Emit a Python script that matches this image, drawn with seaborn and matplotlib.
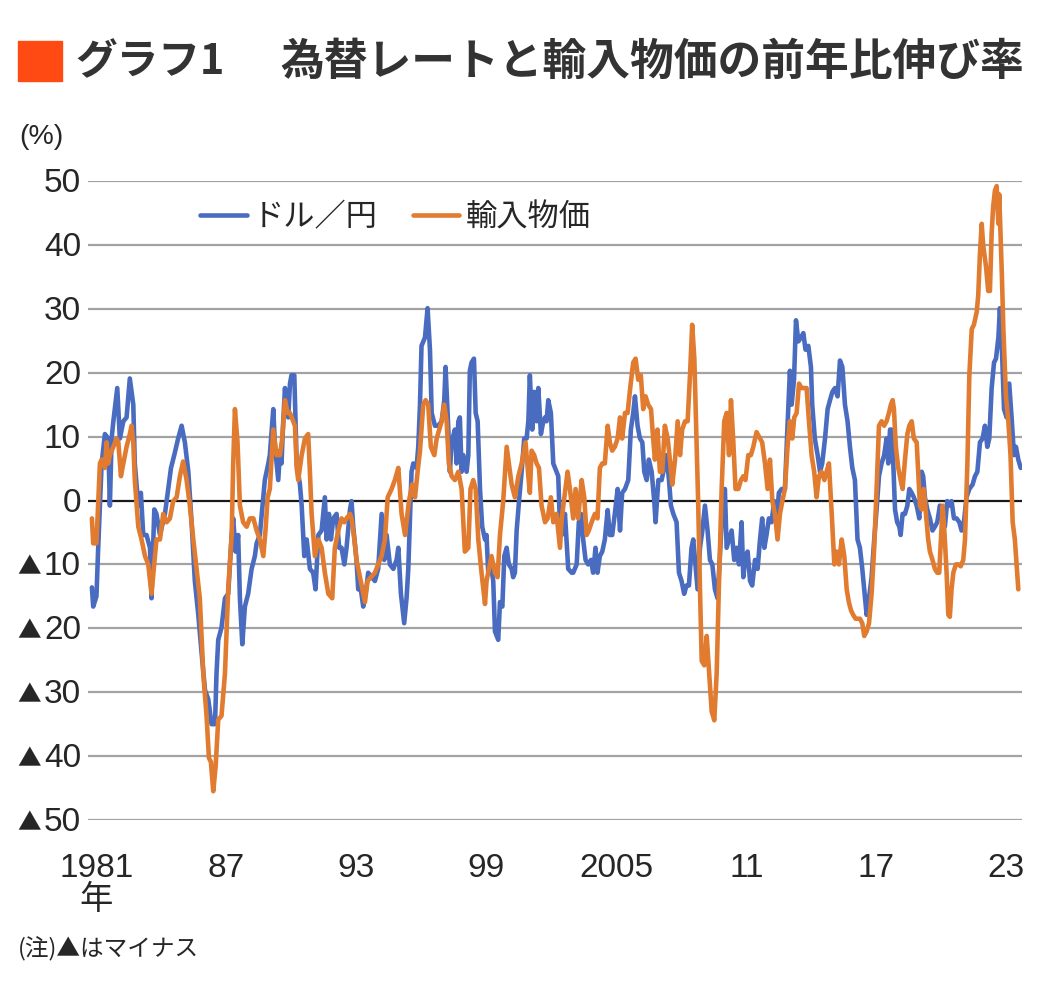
import numpy as np
import pandas as pd
import matplotlib
matplotlib.use("Agg")
import matplotlib.pyplot as plt
from matplotlib.patches import Rectangle
from matplotlib.font_manager import FontProperties
from matplotlib.transforms import blended_transform_factory, ScaledTranslation
import seaborn as sns

# ---------------- data ----------------
usd_year = [
    1981.00, 1981.06, 1981.21, 1981.29, 1981.45, 1981.60, 1981.75, 1981.83, 1981.91, 1981.99,
    1982.17, 1982.29, 1982.45, 1982.60, 1982.75, 1982.91, 1982.98, 1983.14, 1983.26, 1983.37,
    1983.52, 1983.68, 1983.75, 1983.88, 1983.98, 1984.14, 1984.37, 1984.52, 1984.65, 1984.80,
    1984.98, 1985.14, 1985.29, 1985.45, 1985.60, 1985.75, 1985.91, 1986.06, 1986.22, 1986.37,
    1986.52, 1986.68, 1986.75, 1986.83, 1986.98, 1987.14, 1987.29, 1987.45, 1987.52, 1987.63,
    1987.75, 1987.83, 1987.94, 1988.06, 1988.21, 1988.37, 1988.52, 1988.60, 1988.75, 1988.91,
    1988.98, 1989.14, 1989.21, 1989.37, 1989.45, 1989.60, 1989.68, 1989.75, 1989.83, 1989.91,
    1989.98, 1990.06, 1990.14, 1990.21, 1990.34, 1990.45, 1990.60, 1990.68, 1990.80, 1990.91,
    1991.06, 1991.21, 1991.32, 1991.45, 1991.60, 1991.75, 1991.83, 1991.94, 1992.03, 1992.14,
    1992.29, 1992.41, 1992.52, 1992.65, 1992.75, 1992.91, 1992.98, 1993.06, 1993.21, 1993.29,
    1993.41, 1993.52, 1993.63, 1993.75, 1993.91, 1994.06, 1994.21, 1994.37, 1994.49, 1994.60,
    1994.75, 1994.91, 1995.06, 1995.14, 1995.26, 1995.41, 1995.52, 1995.60, 1995.75, 1995.83,
    1995.98, 1996.06, 1996.14, 1996.21, 1996.37, 1996.49, 1996.60, 1996.68, 1996.83, 1996.98,
    1997.14, 1997.26, 1997.32, 1997.44, 1997.52, 1997.60, 1997.75, 1997.83, 1997.91, 1997.98,
    1998.06, 1998.14, 1998.29, 1998.37, 1998.44, 1998.52, 1998.63, 1998.71, 1998.80, 1998.91,
    1999.01, 1999.14, 1999.21, 1999.29, 1999.41, 1999.52, 1999.60, 1999.75, 1999.83, 1999.94,
    2000.03, 2000.14, 2000.24, 2000.37, 2000.44, 2000.52, 2000.60, 2000.71, 2000.83, 2000.95,
    2001.06, 2001.14, 2001.21, 2001.32, 2001.41, 2001.52, 2001.60, 2001.72, 2001.83, 2001.91,
    2001.98, 2002.06, 2002.18, 2002.29, 2002.44, 2002.52, 2002.60, 2002.68, 2002.83, 2002.98,
    2003.14, 2003.21, 2003.37, 2003.47, 2003.57, 2003.67, 2003.78, 2003.90, 2004.03, 2004.13,
    2004.24, 2004.33, 2004.44, 2004.55, 2004.67, 2004.80, 2004.90, 2005.01, 2005.13, 2005.26,
    2005.37, 2005.47, 2005.60, 2005.75, 2005.87, 2005.98, 2006.06, 2006.18, 2006.29, 2006.40,
    2006.49, 2006.60, 2006.70, 2006.83, 2006.95, 2007.01, 2007.14, 2007.29, 2007.41, 2007.52,
    2007.63, 2007.72, 2007.83, 2007.98, 2008.09, 2008.21, 2008.33, 2008.44, 2008.55, 2008.67,
    2008.75, 2008.83, 2008.95, 2009.06, 2009.17, 2009.29, 2009.41, 2009.52, 2009.63, 2009.75,
    2009.87, 2009.98, 2010.06, 2010.14, 2010.21, 2010.29, 2010.40, 2010.52, 2010.64, 2010.75,
    2010.86, 2010.98, 2011.06, 2011.16, 2011.26, 2011.37, 2011.47, 2011.60, 2011.72, 2011.83,
    2011.93, 2012.03, 2012.13, 2012.24, 2012.36, 2012.49, 2012.60, 2012.70, 2012.83, 2012.98,
    2013.10, 2013.21, 2013.29, 2013.40, 2013.49, 2013.60, 2013.72, 2013.83, 2013.93, 2014.06,
    2014.18, 2014.24, 2014.36, 2014.49, 2014.60, 2014.70, 2014.83, 2014.95, 2015.06, 2015.17,
    2015.29, 2015.41, 2015.52, 2015.63, 2015.75, 2015.87, 2015.98, 2016.09, 2016.21, 2016.33,
    2016.44, 2016.55, 2016.64, 2016.75, 2016.86, 2016.98, 2017.10, 2017.21, 2017.32, 2017.44,
    2017.56, 2017.67, 2017.75, 2017.83, 2017.90, 2017.98, 2018.06, 2018.16, 2018.26, 2018.32,
    2018.41, 2018.52, 2018.63, 2018.72, 2018.83, 2018.93, 2019.06, 2019.18, 2019.29, 2019.36,
    2019.44, 2019.55, 2019.67, 2019.79, 2019.90, 2020.01, 2020.13, 2020.26, 2020.36, 2020.47,
    2020.56, 2020.67, 2020.78, 2020.90, 2021.03, 2021.13, 2021.24, 2021.36, 2021.49, 2021.64,
    2021.75, 2021.86, 2021.98, 2022.10, 2022.21, 2022.32, 2022.41, 2022.52, 2022.63, 2022.72,
    2022.83, 2022.90, 2023.01, 2023.09, 2023.21, 2023.33, 2023.44, 2023.55, 2023.64, 2023.75,
    2023.86,
]
usd_value = [
    -13.6, -16.6, -15.0, -7.4, 5.8, 10.4, 9.7, -0.8, 9.7, 12.4,
    17.6, 9.7, 12.4, 13.0, 19.1, 15.0, 5.8, -0.8, 1.2, -5.4,
    -5.4, -7.4, -15.3, -1.4, -2.1, -5.4, -2.1, 1.8, 5.1, 7.1,
    9.7, 11.7, 9.1, 4.5, -3.4, -12.6, -17.9, -23.8, -29.7, -31.1,
    -35.0, -35.0, -27.1, -21.8, -19.9, -15.3, -14.6, -5.4, -2.8, -8.0,
    -5.4, -15.3, -22.5, -16.6, -14.6, -10.7, -8.7, -6.7, -5.4, 0.5,
    3.2, 5.8, 7.1, 14.3, 8.4, 3.2, 7.8, 5.8, 12.4, 17.6,
    13.7, 13.0, 18.3, 19.6, 19.6, 5.8, 2.5, -0.8, -8.7, -6.1,
    -10.7, -11.3, -13.9, -5.4, -4.7, 0.5, -6.1, -2.1, -6.1, -2.8,
    -2.1, -7.4, -7.4, -10.0, -7.4, -1.4, -0.1, -4.1, -9.3, -13.9,
    -13.9, -16.6, -14.6, -11.3, -12.0, -12.6, -10.7, -2.1, -9.3, -5.4,
    -10.0, -10.7, -9.3, -7.4, -14.6, -19.2, -15.3, -10.7, 4.5, 5.8,
    5.1, 8.4, 15.0, 24.2, 25.5, 30.1, 23.6, 13.7, 11.7, 11.7,
    12.4, 15.7, 20.9, 11.7, 4.5, 9.1, 11.1, 5.8, 12.4, 13.0,
    4.5, 7.1, 4.5, 7.1, 20.3, 21.6, 22.2, 13.7, 12.4, 1.8,
    -4.1, -6.1, -5.4, -11.3, -10.0, -12.6, -20.5, -21.8, -15.9, -16.6,
    -8.7, -7.4, -10.0, -10.7, -12.0, -11.3, -4.7, -0.1, 4.5, 9.7,
    9.7, 12.4, 19.6, 11.1, 17.0, 12.4, 17.6, 10.4, 12.4, 13.0,
    12.4, 15.7, 13.7, 5.8, 4.5, 3.8, -4.1, -5.4, -2.1, -10.7,
    -11.3, -11.3, -10.0, -3.4, -2.1, -6.1, -9.3, -10.0, -9.3, -11.3,
    -7.4, -11.3, -8.7, -8.0, -6.1, -1.5, -5.4, -5.4, -2.1, 1.8,
    -4.7, 1.2, 1.8, 3.2, 11.1, 13.7, 16.3, 11.7, 9.7, 9.1,
    4.5, 3.2, 6.4, 4.5, -0.1, -3.4, 3.2, 3.2, 5.1, 7.1,
    3.2, -0.8, -2.1, -3.4, -11.3, -12.6, -14.6, -13.3, -13.3, -7.4,
    -6.1, -9.3, -13.9, -7.4, -4.7, -0.8, -4.7, -9.3, -10.0, -13.9,
    -15.3, -8.7, -3.4, 0.5, 1.8, -7.4, -6.1, -4.7, -9.3, -7.4,
    -10.0, -3.4, -12.0, -8.7, -8.0, -12.6, -13.3, -9.3, -10.7, -6.1,
    -2.8, -7.4, -5.4, -2.8, -3.4, -0.1, -3.4, 1.2, 1.8, 1.8,
    11.7, 20.3, 15.0, 18.9, 28.2, 24.9, 25.5, 26.2, 23.6, 24.2,
    20.9, 15.0, 9.7, 7.1, 4.5, 5.8, 9.7, 14.3, 15.7, 17.0,
    17.6, 16.3, 21.9, 20.9, 15.0, 12.4, 8.4, 5.1, 3.2, -6.1,
    -7.4, -10.7, -13.9, -17.9, -15.3, -12.0, -6.1, -1.4, 3.8, 5.8,
    7.1, 9.7, 5.8, 11.1, 11.1, 5.8, -1.4, -3.4, -4.1, -5.4,
    -2.1, -2.1, -0.8, 1.8, 1.2, 0.5, -0.8, -2.8, 4.5, 3.8,
    0.5, -1.4, -2.8, -4.7, -4.1, -3.4, -0.8, -2.1, -4.1, -0.1,
    -0.8, -0.1, -2.8, -2.8, -3.4, -4.7, -3.4, 0.5, 1.8, 2.5,
    3.8, 4.5, 9.1, 9.7, 11.7, 8.4, 9.7, 17.6, 21.6, 22.2,
    25.5, 30.1, 22.2, 14.3, 13.0, 18.3, 13.0, 7.1, 8.4, 6.4,
    5.1,
]

imp_year = [
    1981.00, 1981.06, 1981.21, 1981.37, 1981.45, 1981.52, 1981.60, 1981.68, 1981.75, 1981.83,
    1981.99, 1982.14, 1982.22, 1982.34, 1982.45, 1982.60, 1982.75, 1982.83, 1982.91, 1982.98,
    1983.14, 1983.29, 1983.45, 1983.60, 1983.75, 1983.91, 1983.98, 1984.14, 1984.29, 1984.45,
    1984.60, 1984.75, 1984.91, 1985.06, 1985.21, 1985.37, 1985.52, 1985.68, 1985.83, 1985.98,
    1986.14, 1986.29, 1986.40, 1986.49, 1986.60, 1986.71, 1986.83, 1986.98, 1987.14, 1987.29,
    1987.45, 1987.52, 1987.60, 1987.72, 1987.83, 1987.98, 1988.14, 1988.29, 1988.45, 1988.60,
    1988.75, 1988.91, 1989.01, 1989.11, 1989.21, 1989.37, 1989.52, 1989.68, 1989.78, 1989.91,
    1990.03, 1990.14, 1990.29, 1990.37, 1990.45, 1990.52, 1990.68, 1990.83, 1990.98, 1991.06,
    1991.14, 1991.29, 1991.45, 1991.60, 1991.75, 1991.91, 1992.09, 1992.21, 1992.37, 1992.52,
    1992.65, 1992.75, 1992.91, 1992.98, 1993.11, 1993.21, 1993.37, 1993.52, 1993.60, 1993.72,
    1993.88, 1994.06, 1994.21, 1994.37, 1994.52, 1994.65, 1994.83, 1994.98, 1995.14, 1995.29,
    1995.45, 1995.63, 1995.78, 1995.91, 1996.03, 1996.14, 1996.29, 1996.40, 1996.52, 1996.64,
    1996.80, 1996.91, 1997.14, 1997.26, 1997.37, 1997.47, 1997.60, 1997.75, 1997.91, 1998.06,
    1998.21, 1998.37, 1998.47, 1998.60, 1998.71, 1998.83, 1998.98, 1999.14, 1999.21, 1999.32,
    1999.44, 1999.60, 1999.72, 1999.83, 1999.98, 2000.14, 2000.24, 2000.37, 2000.52, 2000.68,
    2000.83, 2001.01, 2001.14, 2001.21, 2001.29, 2001.41, 2001.52, 2001.63, 2001.75, 2001.91,
    2002.03, 2002.18, 2002.29, 2002.44, 2002.60, 2002.68, 2002.80, 2002.95, 2003.06, 2003.21,
    2003.32, 2003.44, 2003.60, 2003.72, 2003.83, 2003.93, 2004.06, 2004.21, 2004.33, 2004.44,
    2004.55, 2004.67, 2004.80, 2004.90, 2005.01, 2005.13, 2005.26, 2005.37, 2005.47, 2005.60,
    2005.72, 2005.84, 2005.98, 2006.09, 2006.21, 2006.33, 2006.44, 2006.55, 2006.67, 2006.80,
    2006.90, 2006.98, 2007.10, 2007.21, 2007.32, 2007.44, 2007.57, 2007.69, 2007.78, 2007.91,
    2008.03, 2008.14, 2008.24, 2008.37, 2008.49, 2008.60, 2008.70, 2008.80, 2008.90, 2008.98,
    2009.06, 2009.14, 2009.26, 2009.37, 2009.47, 2009.60, 2009.72, 2009.83, 2009.93, 2010.06,
    2010.18, 2010.29, 2010.40, 2010.49, 2010.60, 2010.70, 2010.83, 2010.95, 2011.06, 2011.16,
    2011.29, 2011.41, 2011.52, 2011.67, 2011.83, 2011.93, 2012.06, 2012.18, 2012.29, 2012.40,
    2012.52, 2012.64, 2012.75, 2012.86, 2012.98, 2013.10, 2013.21, 2013.32, 2013.41, 2013.52,
    2013.63, 2013.75, 2013.87, 2013.98, 2014.09, 2014.21, 2014.33, 2014.44, 2014.55, 2014.67,
    2014.80, 2014.90, 2015.01, 2015.14, 2015.26, 2015.37, 2015.47, 2015.60, 2015.72, 2015.83,
    2015.93, 2016.03, 2016.13, 2016.24, 2016.33, 2016.44, 2016.55, 2016.64, 2016.75, 2016.86,
    2016.98, 2017.10, 2017.21, 2017.32, 2017.44, 2017.56, 2017.67, 2017.78, 2017.87, 2017.95,
    2018.01, 2018.10, 2018.21, 2018.32, 2018.41, 2018.52, 2018.63, 2018.72, 2018.83, 2018.93,
    2019.06, 2019.13, 2019.21, 2019.29, 2019.39, 2019.49, 2019.59, 2019.67, 2019.79, 2019.90,
    2020.01, 2020.10, 2020.18, 2020.26, 2020.36, 2020.44, 2020.52, 2020.59, 2020.67, 2020.75,
    2020.87, 2020.98, 2021.09, 2021.21, 2021.29, 2021.40, 2021.49, 2021.60, 2021.70, 2021.83,
    2021.90, 2021.98, 2022.06, 2022.13, 2022.26, 2022.36, 2022.44, 2022.52, 2022.59, 2022.67,
    2022.75, 2022.83, 2022.87, 2022.93, 2022.99, 2023.06, 2023.18, 2023.29, 2023.39, 2023.49,
    2023.59, 2023.67, 2023.75,
]
imp_value = [
    -2.8, -6.7, -6.7, 5.8, 6.4, 6.4, 5.1, 9.1, 5.8, 7.1,
    8.4, 9.7, 9.1, 3.8, 5.8, 8.4, 10.4, 11.7, 9.1, 3.2,
    -4.1, -6.1, -8.7, -10.0, -14.6, -8.7, -6.1, -6.1, -2.1, -3.4,
    -2.8, -0.1, 0.5, 3.8, 6.1, 3.2, -0.8, -6.1, -10.7, -15.3,
    -27.1, -33.7, -40.3, -40.9, -45.5, -41.6, -34.3, -33.7, -27.1, -13.9,
    -5.4, 5.8, 14.3, 9.1, -0.8, -3.4, -4.1, -2.8, -2.8, -4.7,
    -6.1, -8.7, -4.7, 0.5, 1.8, 11.1, 7.1, 7.1, 9.7, 15.7,
    13.7, 13.7, 12.4, 11.7, 5.1, 3.2, 7.1, 9.7, 10.4, 4.5,
    -2.1, -8.7, -6.1, -7.4, -11.3, -14.6, -15.3, -7.4, -4.7, -2.8,
    -3.4, -2.8, -2.1, -2.8, -6.1, -9.3, -12.0, -14.6, -15.9, -12.6,
    -12.0, -11.3, -10.0, -8.7, -6.1, 0.5, 1.8, 3.2, 5.1, -2.1,
    -5.4, -0.1, 2.5, 0.5, 4.5, 7.8, 15.0, 15.7, 15.0, 8.4,
    7.1, 9.7, 12.4, 15.0, 12.4, 5.8, 3.8, 3.2, 4.5, 1.8,
    -8.0, -7.4, 1.8, 3.2, 1.8, -6.1, -11.3, -16.2, -12.6, -10.7,
    -8.7, -11.3, -12.0, -5.4, -0.1, 8.4, 5.8, 2.5, 0.5, 3.8,
    5.8, 9.1, 3.8, 1.2, 7.8, 7.1, 5.8, 5.1, -0.8, -3.4,
    -2.8, 0.5, -3.4, -2.1, -7.4, -2.8, 0.5, 4.5, 1.8, -2.8,
    1.8, -2.8, 3.2, 0.5, -5.4, -4.7, -3.4, -2.1, -2.8, 5.1,
    5.8, 5.8, 11.7, 9.1, 7.8, 8.4, 9.7, 13.0, 9.7, 13.7,
    13.7, 17.6, 21.6, 22.2, 18.9, 19.6, 14.3, 16.3, 15.0, 14.3,
    9.7, 6.4, 11.1, 4.5, 4.5, 11.7, 9.7, 5.8, 2.5, 6.4,
    12.4, 7.1, 11.1, 12.4, 12.4, 19.6, 27.5, 22.2, 9.7, -0.8,
    -13.9, -25.1, -25.8, -21.2, -26.4, -33.0, -34.4, -27.1, -13.9, 1.8,
    12.4, 13.7, 7.1, 15.7, 9.1, 1.8, 1.8, 3.2, 3.8, 3.2,
    7.1, 7.1, 8.4, 10.7, 9.7, 9.1, 5.8, 1.8, 6.4, -0.1,
    -2.1, -6.1, -2.1, -0.1, 1.8, 8.4, 12.4, 9.7, 13.0, 13.7,
    18.3, 17.6, 17.6, 17.6, 12.4, 7.1, 4.5, 0.5, 3.8, 4.5,
    3.2, 4.5, 5.8, -2.1, -10.0, -8.0, -10.0, -6.1, -8.7, -13.9,
    -15.9, -17.2, -17.9, -18.5, -18.5, -18.5, -19.2, -21.2, -20.5, -19.2,
    -14.6, -7.4, 1.8, 11.7, 12.4, 11.7, 12.4, 13.7, 15.0, 15.7,
    14.3, 8.4, 5.1, 3.2, 1.8, 6.4, 10.4, 11.7, 12.4, 9.7,
    9.1, 4.5, -0.8, -1.4, 1.8, -2.1, -6.1, -8.0, -9.3, -10.7,
    -11.3, -11.3, -6.1, -0.8, -6.1, -11.3, -17.9, -18.2, -13.9, -11.3,
    -10.0, -10.0, -10.3, -9.3, -6.1, 5.8, 19.6, 26.8, 27.5, 29.5,
    32.1, 38.7, 43.3, 39.9, 36.6, 32.8, 32.8, 41.9, 46.0, 48.5,
    49.2, 43.3, 47.9, 41.9, 35.4, 26.8, 16.3, 12.4, 7.1, -3.4,
    -6.1, -10.0, -13.9,
]

series_names = ["ドル／円", "輸入物価"]
series_colors = ["#4a6cc0", "#e07b2f"]
tick_years = [1981, 1987, 1993, 1999, 2005, 2011, 2017, 2023]
tick_labels = ["1981\n年", "87", "93", "99", "2005", "11", "17", "23"]
y_ticks = [50, 40, 30, 20, 10, 0, -10, -20, -30, -40, -50]
y_labels = ["50", "40", "30", "20", "10", "0", "▲10", "▲20", "▲30", "▲40", "▲50"]

# ---------------- figure ----------------
sns.set_theme(style="white")
plt.rcParams["font.family"] = ["Noto Sans CJK JP", "DejaVu Sans"]

W, H = 1040, 1003
fig = plt.figure(figsize=(W / 100, H / 100), dpi=100)
fig.patch.set_facecolor("white")
ax = fig.add_axes([88 / W, 1 - 821 / H, 934 / W, 639 / H])

df = pd.concat([
    pd.DataFrame({"year": usd_year, "value": usd_value, "series": series_names[0]}),
    pd.DataFrame({"year": imp_year, "value": imp_value, "series": series_names[1]}),
], ignore_index=True)

sns.lineplot(data=df, x="year", y="value", hue="series", hue_order=series_names,
             palette=series_colors, estimator=None, sort=False, linewidth=3.3,
             ax=ax, zorder=3)

ax.set_xlim(1980.82, 2023.92)
ax.set_ylim(-50, 50)
ax.set_xlabel("")
ax.set_ylabel("")
ax.grid(False)
for v in y_ticks:
    if v == 0:
        ax.axhline(v, color="#1a1a1a", lw=1.6, zorder=2)
    else:
        ax.axhline(v, color="#a3a3a3", lw=1.6, zorder=1)
for s in ax.spines.values():
    s.set_visible(False)

text_color = "#262626"
num_font = FontProperties(family=["Liberation Sans", "Noto Sans CJK JP"], size=24)

# y labels: numbers right-aligned left of the plot, ▲ drawn a bit smaller to their left
ax.set_yticks(y_ticks)
ax.set_yticklabels([])
ax.tick_params(axis="y", length=0)
ylab_tr = blended_transform_factory(ax.transAxes, ax.transData) + \
    ScaledTranslation(-7 / 100, -1.5 / 100, fig.dpi_scale_trans)
for v, lab in zip(y_ticks, y_labels):
    neg = lab.startswith("▲")
    num = lab[1:] if neg else lab
    t = ax.text(0, v, num, transform=ylab_tr, ha="right", va="center",
                fontproperties=num_font, color=text_color)
    if neg:
        ax.annotate("▲", xy=(0, 0.5), xycoords=t, xytext=(-3, -1),
                    textcoords="offset pixels", ha="right", va="center",
                    fontsize=17, color=text_color, family=["Noto Sans CJK JP"])

ax.set_xticks([y + 0.2 for y in tick_years])
ax.set_xticklabels(tick_labels, fontproperties=num_font, color=text_color,
                   linespacing=1.05)
ax.tick_params(axis="x", length=0, pad=23)

handles, labels = ax.get_legend_handles_labels()
ax.legend(handles, labels, ncol=2, loc="center left", bbox_to_anchor=(0.12, 0.944),
          frameon=False, borderpad=0, borderaxespad=0, handlelength=1.5,
          handletextpad=0.2, columnspacing=1.1,
          prop=FontProperties(family=["Noto Sans CJK JP"], size=22.5))
for txt in ax.get_legend().get_texts():
    txt.set_color(text_color)

# title block
fig.patches.append(Rectangle((18 / W, 1 - 82 / H), 44 / W, 40 / H,
                             transform=fig.transFigure, color="#ff4a14", zorder=5))
fig.text(75 / W, 1 - 62 / H, "グラフ1", fontsize=30, fontweight="bold",
         color="#333333", va="center", ha="left")
fig.text(280 / W, 1 - 62 / H, "為替レートと輸入物価の前年比伸び率", fontsize=31.5,
         fontweight="bold", color="#333333", va="center", ha="left")
fig.text(19 / W, 1 - 137 / H, "(%)", fontsize=20.5, color=text_color, va="center",
         ha="left", family=["Liberation Sans", "Noto Sans CJK JP"])
fig.text(18 / W, 1 - 949 / H, "(注)▲はマイナス", fontsize=17, color=text_color,
         va="center", ha="left")

fig.savefig("out.png", dpi=100, facecolor="white")
